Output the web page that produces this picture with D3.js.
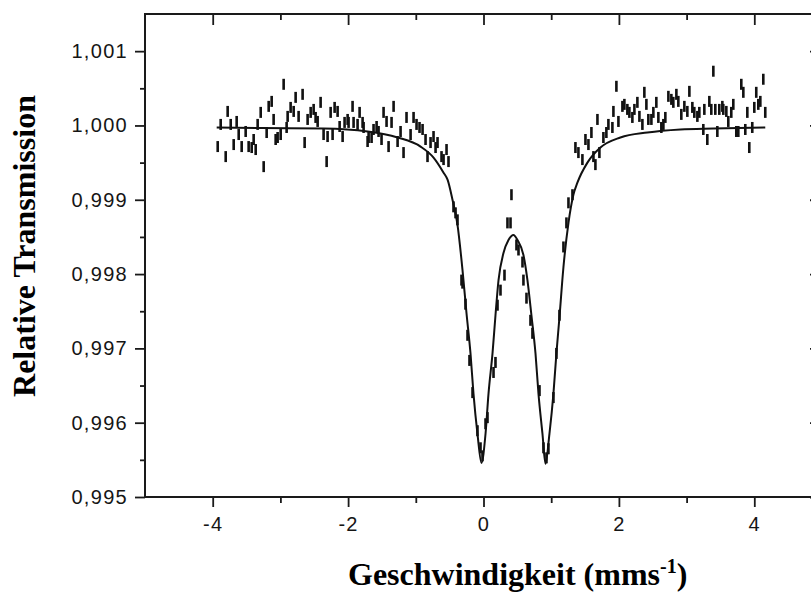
<!DOCTYPE html>
<html>
<head>
<meta charset="utf-8">
<script src="https://cdn.jsdelivr.net/npm/d3@7"></script>
<style>
body { margin: 0; background: #fff; }
svg { display: block; }
.axis text { font-family: "Liberation Sans", Arial, sans-serif; font-size: 20px; fill: #151515; letter-spacing: 1.3px; }
.axis line { stroke: #1a1a1a; stroke-width: 1.8; }
.title { font-family: "Liberation Serif", "Times New Roman", serif; font-weight: bold; font-size: 32px; fill: #000; }
</style>
</head>
<body>
<svg width="811" height="593"></svg>
<script>
// measured points (velocity in mm/s, relative transmission)
var velocity = [-3.926,-3.882,-3.808,-3.779,-3.734,-3.690,-3.646,-3.616,-3.572,-3.513,
  -3.469,-3.424,-3.395,-3.365,-3.336,-3.291,-3.247,-3.203,-3.173,-3.129,
  -3.100,-3.070,-3.041,-2.996,-2.952,-2.908,-2.893,-2.849,-2.804,-2.775,
  -2.731,-2.672,-2.642,-2.598,-2.553,-2.509,-2.480,-2.450,-2.406,-2.362,
  -2.317,-2.303,-2.258,-2.229,-2.199,-2.155,-2.125,-2.081,-2.052,-2.007,
  -1.993,-1.934,-1.919,-1.860,-1.830,-1.786,-1.771,-1.712,-1.697,-1.653,
  -1.624,-1.579,-1.550,-1.506,-1.476,-1.432,-1.402,-1.358,-1.328,-1.269,
  -1.225,-1.181,-1.137,-1.077,-1.033,-0.989,-0.945,-0.900,-0.856,-0.827,
  -0.782,-0.738,-0.708,-0.679,-0.620,-0.590,-0.546,-0.517,-0.443,-0.413,
  -0.384,-0.325,-0.310,-0.266,-0.236,-0.207,-0.162,-0.089,-0.044,-0.015,
  0.030,0.059,0.148,0.177,0.207,0.251,0.310,0.354,0.399,0.413,
  0.487,0.517,0.576,0.590,0.635,0.694,0.723,0.827,0.886,0.930,
  0.959,1.033,1.077,1.122,1.181,1.225,1.255,1.314,1.358,1.402,
  1.461,1.506,1.550,1.594,1.624,1.653,1.683,1.712,1.771,1.815,
  1.845,1.904,1.919,1.963,1.993,2.052,2.081,2.125,2.155,2.199,
  2.229,2.273,2.303,2.347,2.376,2.406,2.435,2.480,2.509,2.553,
  2.583,2.627,2.657,2.686,2.731,2.775,2.804,2.849,2.878,2.922,
  2.967,3.011,3.041,3.085,3.114,3.159,3.188,3.247,3.262,3.306,
  3.336,3.365,3.395,3.424,3.454,3.483,3.528,3.542,3.587,3.616,
  3.660,3.690,3.734,3.764,3.808,3.838,3.867,3.897,3.926,3.970,
  4.000,4.029,4.059,4.089,4.133,4.162];

var transmission = [0.999716,1.000014,0.999581,1.000189,1.000014,0.999743,1.000054,0.999878,0.999716,0.999919,
  0.999716,0.999703,0.999811,0.999676,1.000014,1.000176,0.999446,0.999905,1.000257,1.000324,
  1.000081,0.999811,0.999838,0.999878,1.000554,0.999973,1.000122,1.000243,1.000189,1.000378,
  1.000122,1.000419,0.999770,1.000081,1.000176,1.000216,1.000108,1.000054,1.000311,0.999878,
  0.999514,0.999851,1.000176,0.999878,1.000243,1.000189,0.999986,0.999851,1.000041,1.000081,
  1.000041,1.000257,1.000041,1.000014,1.000176,1.000041,0.999973,0.999784,0.999838,0.999838,
  0.999946,0.999986,0.999919,0.999811,1.000176,1.000054,0.999716,1.000041,1.000257,0.999784,
  0.999919,0.999635,1.000108,0.999878,1.000108,1.000014,0.999973,0.999946,0.999811,0.999581,
  0.999770,0.999851,0.999703,0.999770,0.999581,0.999541,0.999676,0.999514,0.998905,0.998824,
  0.998730,0.997919,0.997878,0.997595,0.997176,0.996838,0.996405,0.995892,0.995662,0.995554,
  0.995986,0.996068,0.996676,0.996811,0.997581,0.997784,0.997986,0.998689,0.998689,0.999068,
  0.998392,0.998324,0.998162,0.997919,0.997676,0.997378,0.997203,0.996432,0.995662,0.995527,
  0.995649,0.996338,0.996932,0.997446,0.998365,0.998689,0.998959,0.999068,0.999703,0.999635,
  0.999541,0.999811,0.999743,0.999905,0.999581,0.999473,1.000081,0.999635,0.999838,0.999905,
  1.000014,0.999973,1.000189,1.000527,1.000054,1.000257,1.000284,1.000216,1.000176,1.000108,
  1.000216,1.000311,1.000122,1.000014,1.000446,1.000284,1.000081,1.000081,1.000176,1.000311,
  1.000108,0.999973,1.000014,1.000108,1.000392,1.000351,1.000311,1.000419,1.000324,1.000149,
  1.000257,1.000189,1.000459,1.000243,1.000176,1.000122,1.000176,0.999946,1.000216,0.999811,
  1.000324,1.000216,1.000730,1.000216,0.999919,1.000216,1.000257,1.000216,1.000189,1.000054,
  1.000176,1.000284,0.999919,0.999919,1.000554,1.000446,0.999946,1.000176,0.999703,0.999973,
  1.000243,1.000446,1.000284,1.000324,1.000622,1.000176];

// fitted doublet
var fitVelocity = [-3.941,-3.291,-2.362,-1.712,-1.269,-0.930,-0.738,-0.590,-0.531,-0.458,
  -0.384,-0.310,-0.251,-0.192,-0.148,-0.089,-0.030,0.030,0.074,0.133,
  0.177,0.222,0.295,0.369,0.443,0.502,0.590,0.649,0.708,0.768,
  0.812,0.871,0.915,0.974,1.033,1.077,1.122,1.181,1.255,1.328,
  1.387,1.535,1.727,2.022,2.421,2.908,3.395,4.162];
var fitTransmission = [0.999973,0.999966,0.999959,0.999919,0.999838,0.999716,0.999568,0.999365,0.999270,0.999000,
  0.998662,0.998054,0.997473,0.996932,0.996392,0.995851,0.995459,0.995851,0.996392,0.996932,
  0.997446,0.997919,0.998284,0.998459,0.998527,0.998459,0.998257,0.997919,0.997446,0.996932,
  0.996392,0.995851,0.995446,0.995851,0.996392,0.996932,0.997419,0.998095,0.998689,0.999068,
  0.999230,0.999500,0.999703,0.999838,0.999905,0.999946,0.999959,0.999973];

var xMajor = [-4, -2, 0, 2, 4];
var xMajorLabels = ["-4", "-2", "0", "2", "4"];
var xMinor = [-3, -1, 1, 3];
var yMajor = [0.995, 0.996, 0.997, 0.998, 0.999, 1.000, 1.001];
var yMajorLabels = ["0,995", "0,996", "0,997", "0,998", "0,999", "1,000", "1,001"];
var yMinor = [0.9955, 0.9965, 0.9975, 0.9985, 0.9995, 1.0005];

var svg = d3.select("svg"),
    plotLeft = 145, plotRight = 822, plotTop = 14, plotBottom = 497;

var x = d3.scaleLinear().domain([-5, 5]).range([plotLeft, plotRight]);
var y = d3.scaleLinear().domain([0.995, 1.0015]).range([plotBottom, plotTop]);

// bottom axis
svg.append("g").attr("class", "axis")
    .attr("transform", "translate(0," + plotBottom + ")")
    .call(d3.axisBottom(x).tickValues(xMajor).tickSize(10).tickPadding(10)
        .tickFormat(function(d, i) { return xMajorLabels[i]; }))
    .select(".domain").remove();
svg.append("g").attr("class", "axis")
    .attr("transform", "translate(0," + plotBottom + ")")
    .call(d3.axisBottom(x).tickValues(xMinor).tickSize(6).tickFormat(""))
    .select(".domain").remove();

// top axis, ticks inward
svg.append("g").attr("class", "axis")
    .attr("transform", "translate(0," + plotTop + ")")
    .call(d3.axisTop(x).tickValues(xMajor).tickSize(-11).tickFormat(""))
    .select(".domain").remove();
svg.append("g").attr("class", "axis")
    .attr("transform", "translate(0," + plotTop + ")")
    .call(d3.axisTop(x).tickValues(xMinor).tickSize(-6).tickFormat(""))
    .select(".domain").remove();

// left axis
svg.append("g").attr("class", "axis")
    .attr("transform", "translate(" + plotLeft + ",0)")
    .call(d3.axisLeft(y).tickValues(yMajor).tickSize(10).tickPadding(7)
        .tickFormat(function(d, i) { return yMajorLabels[i]; }))
    .select(".domain").remove();
svg.append("g").attr("class", "axis")
    .attr("transform", "translate(" + plotLeft + ",0)")
    .call(d3.axisLeft(y).tickValues(yMinor).tickSize(5).tickFormat(""))
    .select(".domain").remove();

// right axis (mostly cut off by the page edge)
svg.append("g").attr("class", "axis")
    .attr("transform", "translate(" + plotRight + ",0)")
    .call(d3.axisRight(y).tickValues(yMajor).tickSize(-12).tickFormat(""))
    .select(".domain").remove();

// frame
svg.append("rect")
    .attr("x", plotLeft).attr("y", plotTop)
    .attr("width", plotRight - plotLeft).attr("height", plotBottom - plotTop)
    .attr("fill", "none").attr("stroke", "#1a1a1a").attr("stroke-width", 2);

// fit line
var line = d3.line()
    .x(function(d) { return x(d[0]); })
    .y(function(d) { return y(d[1]); })
    .curve(d3.curveMonotoneX);

svg.append("path")
    .datum(d3.zip(fitVelocity, fitTransmission))
    .attr("d", line)
    .attr("fill", "none")
    .attr("stroke", "#111")
    .attr("stroke-width", 2);

// data points drawn as short error bars
svg.append("g").selectAll("rect")
    .data(d3.zip(velocity, transmission))
    .enter().append("rect")
    .attr("x", function(d) { return x(d[0]) - 1.3; })
    .attr("y", function(d) { return y(d[1]) - 5.5; })
    .attr("width", 2.6)
    .attr("height", 11)
    .attr("fill", "#111");

// axis titles
svg.append("text")
    .attr("class", "title")
    .attr("transform", "translate(35,246) rotate(-90)")
    .attr("text-anchor", "middle")
    .text("Relative Transmission");

var xt = svg.append("text")
    .attr("class", "title")
    .attr("x", 348)
    .attr("y", 585);
xt.append("tspan").text("Geschwindigkeit (mms");
xt.append("tspan").attr("dy", -12).attr("font-size", 20).text("-1");
xt.append("tspan").attr("dy", 12).text(")");
</script>
</body>
</html>
